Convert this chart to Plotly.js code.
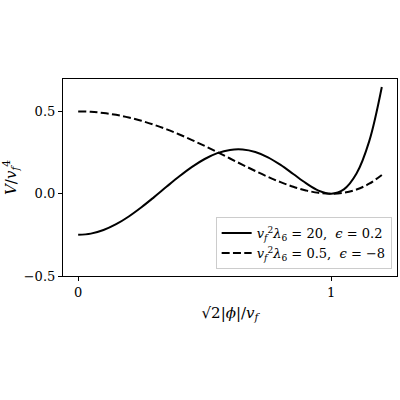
<!DOCTYPE html>
<html><head><meta charset="utf-8">
<script src="https://cdn.plot.ly/plotly-3.0.1.min.js"></script>
<style>html,body{margin:0;padding:0;background:#fff}</style>
</head><body><div id="chart" style="width:400px;height:400px"></div>
<script>
const xValues = [0,0.05,0.1,0.15,0.2,0.25,0.3,0.35,0.4,0.45,0.5,0.55,0.6,0.65,0.7,0.75,0.8,0.85,0.9,0.95,1.0,1.05,1.1,1.15,1.2];
const solidValues = [-0.25,-0.2425,-0.2205,-0.1851,-0.1382,-0.0824,-0.0207,0.0433,0.1058,0.1630,0.2109,0.2463,0.2662,0.2689,0.2536,0.2213,0.1750,0.1198,0.0641,0.0191,0.0,0.0263,0.1224,0.3179,0.6486];
const dashedValues = [0.5,0.4977,0.4907,0.4791,0.4631,0.4429,0.4187,0.3909,0.3599,0.3261,0.2900,0.2525,0.2140,0.1756,0.1380,0.1024,0.0700,0.0420,0.0199,0.0053,0.0,0.0060,0.0254,0.0606,0.1142];
const solidName = '<i>v</i><sub><i>f</i></sub><sup>2</sup><i>λ</i><sub>6</sub> = 20,  <i>ϵ</i> = 0.2';
const dashedName = '<i>v</i><sub><i>f</i></sub><sup>2</sup><i>λ</i><sub>6</sub> = 0.5,  <i>ϵ</i> = −8';
const xTickVals = [0,1];
const xTickText = ['0','1'];
const yTickVals = [-0.5,0,0.5];
const yTickText = ['−0.5','0.0','0.5'];

const fam = '"DejaVu Serif", serif';
const font = {family:fam, size:13, color:'#000'};
const traces = [
  {x:xValues, y:solidValues, mode:'lines', name:solidName, line:{color:'#000', width:2, shape:'spline'}},
  {x:xValues, y:dashedValues, mode:'lines', name:dashedName, line:{color:'#000', width:2, dash:'8px,3.3px', shape:'spline'}}
];
const axisCommon = {showline:true, mirror:true, linecolor:'#000', linewidth:1.1, ticks:'outside', ticklen:4, tickwidth:1, tickcolor:'#000', showgrid:false, zeroline:false, tickfont:font};
const layout = {
  width:400, height:400,
  margin:{l:63, r:3, t:79, b:124, pad:0},
  paper_bgcolor:'#fff', plot_bgcolor:'#fff',
  font:font,
  showlegend:true,
  legend:{x:0.984, y:0.035, xanchor:'right', yanchor:'bottom', bgcolor:'rgba(255,255,255,0.8)', bordercolor:'#ccc', borderwidth:1, font:{family:fam, size:13, color:'#000'}, itemwidth:30, tracegroupgap:2},
  xaxis:Object.assign({}, axisCommon, {range:[-0.06,1.26], tickvals:xTickVals, ticktext:xTickText, title:{text:'√2|<i>ϕ</i>|/<i>v</i><sub><i>f</i></sub>', font:{family:fam, size:15}, standoff:8}}),
  yaxis:Object.assign({}, axisCommon, {range:[-0.5,0.697], tickvals:yTickVals, ticktext:yTickText, title:{text:'<i>V</i>/<i>v</i><sub><i>f</i></sub><sup>4</sup>', font:{family:fam, size:15}, standoff:6}})
};
Plotly.newPlot('chart', traces, layout, {staticPlot:true, displayModeBar:false});
</script></body></html>
